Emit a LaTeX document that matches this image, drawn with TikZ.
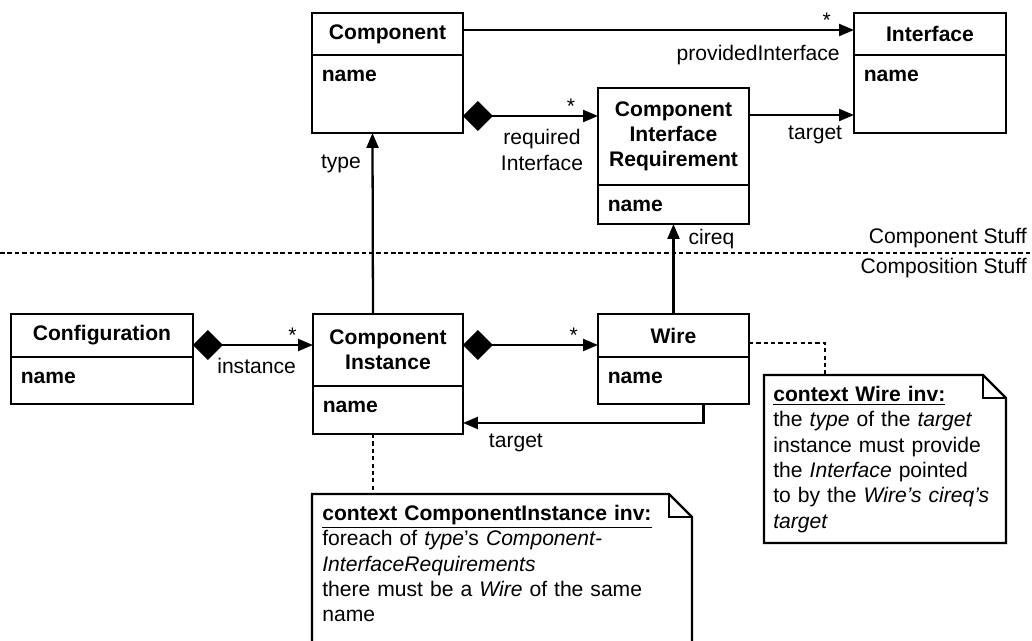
\documentclass[tikz,border=0pt]{standalone}
\usepackage{fontspec}
\setmainfont{Liberation Sans}
\usetikzlibrary{arrows.meta}
\newcommand\umlfont{\fontsize{12}{14.4}\selectfont}
\tikzset{
  uml/.style={line width=1.3pt},
  classhead/.style={uml, draw, fill=white, font=\umlfont\bfseries, align=center, inner sep=0pt, outer sep=0pt, anchor=north west},
  classbody/.style={uml, draw, fill=white, inner sep=0pt, outer sep=0pt, anchor=north},
  attr/.style={font=\umlfont\bfseries, inner sep=0pt, anchor=west},
  role/.style={font=\umlfont, inner sep=0pt},
  mult/.style={font=\umlfont, inner sep=0.5pt},
  assoc/.style={uml, -{Triangle[length=0.3cm,width=0.24cm]}},
  compose/.style={uml, {Diamond[length=0.6cm,width=0.6cm]}-{Triangle[length=0.3cm,width=0.24cm]}},
  notelink/.style={uml, dash pattern=on 2.4pt off 1.8pt},
  separator/.style={line width=1.1pt, dash pattern=on 2.6pt off 1.6pt},
  notebody/.style={inner sep=0pt, outer sep=0pt, anchor=north west},
  notetext/.style={font=\umlfont, align=left, inner sep=0pt, anchor=north west},
}
% class box: name, top left, width, header height, body height, title
\newcommand\umlclass[6]{
  \node[classhead, minimum width=#3, minimum height=#4] (#1) at #2 {#6};
  \node[classbody, minimum width=#3, minimum height=#5] (#1-attr) at (#1.south) {};
  \node[attr] (#1-name) at ([shift={(0.19cm,-0.42cm)}]#1-attr.north west) {name};
}
% note with folded corner: name, top left, width, height
\newcommand\umlnote[4]{
  \node[notebody, minimum width=#3, minimum height=#4] (#1) at #2 {};
  \draw[uml] (#1.north west) -- ([xshift=-0.46cm]#1.north east) -- ([yshift=-0.46cm]#1.north east)
    -- (#1.south east) -- (#1.south west) -- cycle;
  \draw[uml] ([xshift=-0.46cm]#1.north east) |- ([yshift=-0.46cm]#1.north east);
}

\begin{document}
\begin{tikzpicture}[x=0.02cm, y=-0.02cm]
  \useasboundingbox (0,0) rectangle (1032,640);

  % component stuff
  \umlclass{comp}{(312,13)}{3.02cm}{0.84cm}{1.56cm}{Component}
  \umlclass{iface}{(854,13)}{3.04cm}{0.84cm}{1.56cm}{Interface}
  \umlclass{cir}{(598,88)}{3.02cm}{1.94cm}{0.78cm}{Component\\Interface\\Requirement}

  % composition stuff
  \umlclass{conf}{(11,314)}{3.64cm}{0.86cm}{0.94cm}{Configuration}
  \umlclass{ci}{(313,314)}{3cm}{1.44cm}{0.96cm}{Component\\Instance}
  \umlclass{wire}{(598,314)}{3.02cm}{0.86cm}{0.94cm}{Wire}

  \draw[separator] (0,253) -- (1032,253);
  \node[role, anchor=east] (stuff1) at (1027,238) {Component Stuff};
  \node[role, anchor=east] (stuff2) at (1027,268) {Composition Stuff};

  \draw[assoc] ([yshift=0.08cm]comp.east) -- ([yshift=0.08cm]comp.east -| iface.west)
    node[mult, pos=0.93, above] {*}
    node[role, pos=0.755, below=8pt] {providedInterface};
  \draw[compose] ([yshift=-0.44cm]comp-attr.east) -- ([yshift=-0.44cm]comp-attr.east -| cir.west)
    node[mult, pos=0.8, above] {*}
    node[role, pos=0.585, below=7pt, align=center] {required\\Interface};
  \draw[assoc] ([yshift=0.43cm]cir.east) -- ([yshift=0.43cm]cir.east -| iface-attr.west)
    node[role, pos=0.63, below=5.5pt] {target};
  \draw[assoc] ([xshift=-0.3cm]ci.north) -- ([xshift=-0.3cm]comp-attr.south)
    node[role, pos=0.83, left=6pt] {type};
  \draw[assoc] (wire.north) -- (cir-attr.south)
    node[role, pos=0.83, right=8pt] {cireq};

  \draw[compose] ([yshift=-0.19cm]conf.east) -- ([yshift=-0.19cm]conf.east -| ci.west)
    node[mult, pos=0.83, above] {*}
    node[role, pos=0.53, below=6.8pt] {instance};
  \draw[compose] ([yshift=-0.19cm]wire.west -| ci.east) -- ([yshift=-0.19cm]wire.west)
    node[mult, pos=0.82, above] {*};
  \draw[assoc] ([xshift=0.6cm]wire-attr.south) |- ([yshift=-0.26cm]ci-attr.east)
    node[role, pos=0.89, below=5.7pt] {target};

  % constraints
  \umlnote{noteci}{(312,494)}{7.6cm}{3.6cm}
  \node[notetext, text width=7.2cm] (noteci-text) at ([shift={(0.2cm,-0.22cm)}]noteci.north west)
    {\underline{\textbf{context ComponentInstance inv:}}\\
     foreach of \textit{type}'s \textit{Component-}\\
     \textit{InterfaceRequirements}\\
     there must be a \textit{Wire} of the same\\
     name};
  \umlnote{notewire}{(764,375)}{4.84cm}{3.36cm}
  \node[notetext, text width=4.5cm] (notewire-text) at ([shift={(0.18cm,-0.22cm)}]notewire.north west)
    {\underline{\textbf{context Wire inv:}}\\
     the \textit{type} of the \textit{target}\\
     instance must provide\\
     the \textit{Interface} pointed\\
     to by the \textit{Wire's cireq's}\\
     \textit{target}};

  \draw[notelink] ([xshift=-0.3cm]ci-attr.south) -- ([xshift=-0.3cm]ci-attr.south |- noteci.north);
  \draw[notelink] ([yshift=-0.15cm]wire.east) -| ([xshift=-1.2cm]notewire.north);
\end{tikzpicture}
\end{document}
